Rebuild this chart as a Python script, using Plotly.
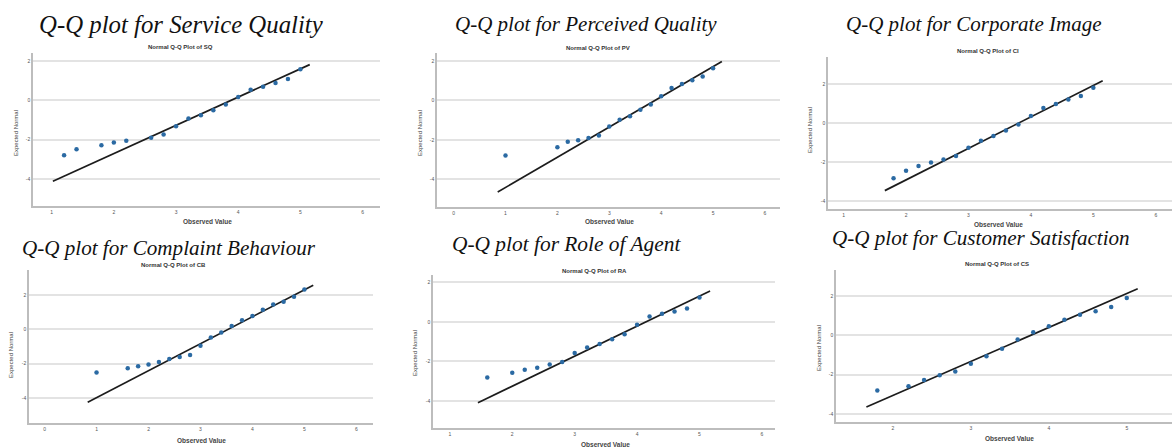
import plotly.graph_objects as go

# ---------------- data ----------------
panel_titles = [
    "Q-Q plot for Service Quality",
    "Q-Q plot for Perceived Quality",
    "Q-Q plot for Corporate Image",
    "Q-Q plot for Complaint Behaviour",
    "Q-Q plot for Role of Agent",
    "Q-Q plot for Customer Satisfaction",
]
chart_titles = [
    "Normal Q-Q Plot of SQ",
    "Normal Q-Q Plot of PV",
    "Normal Q-Q Plot of CI",
    "Normal Q-Q Plot of CB",
    "Normal Q-Q Plot of RA",
    "Normal Q-Q Plot of CS",
]

sq_observed = [1.2, 1.4, 1.8, 2.0, 2.2, 2.6, 2.8, 3.0, 3.2, 3.4, 3.6, 3.8, 4.0, 4.2, 4.4, 4.6, 4.8, 5.0]
sq_expected = [-2.79, -2.49, -2.28, -2.15, -2.05, -1.91, -1.74, -1.32, -0.93, -0.76, -0.51, -0.22, 0.17, 0.54, 0.69, 0.88, 1.08, 1.57]
sq_line_x = [1.02, 5.15]
sq_line_y = [-4.11, 1.81]

pv_observed = [1.0, 2.0, 2.2, 2.4, 2.6, 2.8, 3.0, 3.2, 3.4, 3.6, 3.8, 4.0, 4.2, 4.4, 4.6, 4.8, 5.0]
pv_expected = [-2.79, -2.37, -2.10, -2.02, -1.91, -1.78, -1.32, -0.98, -0.80, -0.47, -0.20, 0.22, 0.63, 0.83, 1.02, 1.22, 1.64]
pv_line_x = [0.85, 5.17]
pv_line_y = [-4.65, 1.98]

ci_observed = [1.8, 2.0, 2.2, 2.4, 2.6, 2.8, 3.0, 3.2, 3.4, 3.6, 3.8, 4.0, 4.2, 4.4, 4.6, 4.8, 5.0]
ci_expected = [-2.81, -2.43, -2.19, -2.01, -1.85, -1.68, -1.26, -0.90, -0.65, -0.37, -0.07, 0.37, 0.78, 0.99, 1.22, 1.39, 1.82]
ci_line_x = [1.66, 5.15]
ci_line_y = [-3.45, 2.18]

cb_observed = [1.0, 1.6, 1.8, 2.0, 2.2, 2.4, 2.6, 2.8, 3.0, 3.2, 3.4, 3.6, 3.8, 4.0, 4.2, 4.4, 4.6, 4.8, 5.0]
cb_expected = [-2.51, -2.26, -2.15, -2.05, -1.90, -1.72, -1.61, -1.49, -0.95, -0.48, -0.19, 0.19, 0.52, 0.77, 1.14, 1.45, 1.61, 1.90, 2.32]
cb_line_x = [0.83, 5.17]
cb_line_y = [-4.24, 2.57]

ra_observed = [1.6, 2.0, 2.2, 2.4, 2.6, 2.8, 3.0, 3.2, 3.4, 3.6, 3.8, 4.0, 4.2, 4.4, 4.6, 4.8, 5.0]
ra_expected = [-2.81, -2.57, -2.42, -2.32, -2.16, -2.03, -1.57, -1.30, -1.12, -0.88, -0.63, -0.15, 0.27, 0.41, 0.52, 0.68, 1.23]
ra_line_x = [1.45, 5.17]
ra_line_y = [-4.09, 1.56]

cs_observed = [1.8, 2.2, 2.4, 2.6, 2.8, 3.0, 3.2, 3.4, 3.6, 3.8, 4.0, 4.2, 4.4, 4.6, 4.8, 5.0]
cs_expected = [-2.81, -2.59, -2.28, -2.03, -1.84, -1.45, -1.07, -0.69, -0.22, 0.15, 0.46, 0.79, 1.05, 1.22, 1.44, 1.89]
cs_line_x = [1.66, 5.14]
cs_line_y = [-3.65, 2.37]

x_tick_values = [
    [1, 2, 3, 4, 5, 6],
    [0, 1, 2, 3, 4, 5, 6],
    [1, 2, 3, 4, 5, 6],
    [0, 1, 2, 3, 4, 5, 6],
    [1, 2, 3, 4, 5, 6],
    [2, 3, 4, 5],
]
y_tick_values = [-4, -2, 0, 2]

x_axis_title = "Observed Value"
y_axis_title = "Expected Normal"

# ---------------- layout geometry ----------------
W, H = 1172, 447
observed = [sq_observed, pv_observed, ci_observed, cb_observed, ra_observed, cs_observed]
expected = [sq_expected, pv_expected, ci_expected, cb_expected, ra_expected, cs_expected]
lines_x = [sq_line_x, pv_line_x, ci_line_x, cb_line_x, ra_line_x, cs_line_x]
lines_y = [sq_line_y, pv_line_y, ci_line_y, cb_line_y, ra_line_y, cs_line_y]

# plot boxes in pixels: left, right, top, bottom
boxes = [
    (33, 380, 53, 206),
    (437, 780, 53, 207),
    (828, 1172, 57, 209),
    (29, 373, 270, 423),
    (433, 775, 275, 428),
    (836, 1172, 270, 422),
]
x_ranges = [[0.70, 6.28], [-0.32, 6.29], [0.75, 6.26], [-0.30, 6.32], [0.73, 6.21], [1.27, 5.58]]
y_ranges = [[-5.37, 2.40], [-5.41, 2.41], [-4.39, 3.39], [-5.45, 3.45], [-5.37, 2.37], [-4.41, 3.32]]

big_title_pos = [(181, 24), (586, 24), (974, 24), (169, 248), (566, 244), (981, 238)]
big_title_size = [24.8, 21, 21, 21.1, 21.4, 21.1]
sub_title_pos = [(180, 47), (598, 48), (988, 51), (173, 265), (595, 271), (997, 264)]
x_title_pos = [(207, 222), (609, 222), (998, 224), (201, 440), (605, 444), (1009, 438)]
y_title_pos = [(16, 133), (420, 133), (810, 130), (11, 355), (415, 353), (819, 348)]

def px(x):
    return x / W

def py(y):
    return 1 - y / H

fig = go.Figure()
annotations = []
layout_axes = {}

marker_color = "#2b6aa3"
for i in range(6):
    n = "" if i == 0 else str(i + 1)
    xa, ya = "x" + n, "y" + n
    fig.add_trace(go.Scatter(
        x=lines_x[i], y=lines_y[i], mode="lines", xaxis=xa, yaxis=ya,
        line=dict(color="#1c1c1c", width=1.7), showlegend=False, hoverinfo="skip"))
    fig.add_trace(go.Scatter(
        x=observed[i], y=expected[i], mode="markers", xaxis=xa, yaxis=ya,
        marker=dict(color=marker_color, size=4.5), showlegend=False))

    l, r, t, b = boxes[i]
    layout_axes["xaxis" + n] = dict(
        domain=[px(l), px(r)], range=x_ranges[i], anchor=ya,
        tickvals=x_tick_values[i], ticktext=[str(v) for v in x_tick_values[i]],
        showgrid=False, zeroline=False, showline=True, linecolor="#bdbdbd", linewidth=1.5,
        ticks="", tickfont=dict(size=5, color="#555555", family="Liberation Sans"),
        fixedrange=True)
    layout_axes["yaxis" + n] = dict(
        domain=[py(b), py(t)], range=y_ranges[i], anchor=xa,
        tickvals=y_tick_values, ticktext=[str(v) for v in y_tick_values],
        showgrid=True, gridcolor="#e3e3e3", gridwidth=1.6, zeroline=False,
        showline=True, linecolor="#bdbdbd", linewidth=1.5,
        ticks="", tickfont=dict(size=5, color="#555555", family="Liberation Sans"),
        fixedrange=True)

    bx, by = big_title_pos[i]
    annotations.append(dict(
        text=panel_titles[i], x=px(bx), y=py(by), xref="paper", yref="paper",
        xanchor="center", yanchor="middle", showarrow=False,
        font=dict(family="Liberation Serif", size=big_title_size[i], color="#111111", style="italic")))
    sx, sy = sub_title_pos[i]
    annotations.append(dict(
        text=chart_titles[i], x=px(sx), y=py(sy), xref="paper", yref="paper",
        xanchor="center", yanchor="middle", showarrow=False,
        font=dict(family="Liberation Sans", size=6, color="#333333", weight="bold")))
    tx, ty = x_title_pos[i]
    annotations.append(dict(
        text=x_axis_title, x=px(tx), y=py(ty), xref="paper", yref="paper",
        xanchor="center", yanchor="middle", showarrow=False,
        font=dict(family="Liberation Sans", size=6.5, color="#444444", weight="bold")))
    ex, ey = y_title_pos[i]
    annotations.append(dict(
        text=y_axis_title, x=px(ex), y=py(ey), xref="paper", yref="paper",
        xanchor="center", yanchor="middle", showarrow=False, textangle=-90,
        font=dict(family="Liberation Sans Narrow, Liberation Sans", size=6, color="#444444")))

fig.update_layout(
    width=W, height=H, margin=dict(l=0, r=0, t=0, b=0),
    paper_bgcolor="white", plot_bgcolor="white",
    annotations=annotations, **layout_axes)

fig.write_html(
    "out.html",
    config={"displayModeBar": False},
    post_script="document.body.style.margin='0';document.body.style.overflow='hidden';")
